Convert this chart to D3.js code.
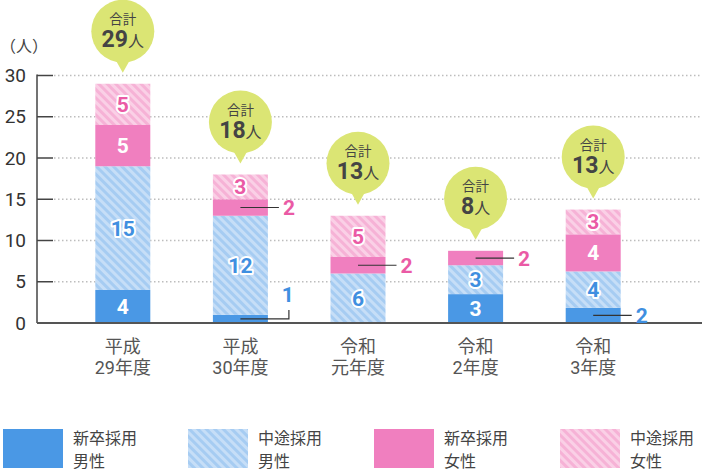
<!DOCTYPE html>
<html><head><meta charset="utf-8">
<script src="https://cdn.jsdelivr.net/npm/d3@7"></script>
<style>
html,body{margin:0;padding:0;background:#fff;}
svg{display:block;font-family:Roboto,"Noto Sans CJK JP",sans-serif;}
</style></head>
<body><svg id="c" width="702" height="470"></svg>
<script>
// ---- data ----
const categoriesLine1 = ["平成","平成","令和","令和","令和"];
const categoriesLine2 = ["29年度","30年度","元年度","2年度","3年度"];
const seriesNames = ["新卒採用男性","中途採用男性","新卒採用女性","中途採用女性"];
const legendLine1 = ["新卒採用","中途採用","新卒採用","中途採用"];
const legendLine2 = ["男性","男性","女性","女性"];
// bar heights as drawn in the picture
const newGradMale   = [4, 1, 0, 3.5, 1.85];
const midCareerMale = [15, 12, 6, 3.5, 4.4];
const newGradFemale = [5, 2, 2, 1.75, 4.5];
const midCareerFemale = [5, 3, 5, 0, 3.0];
// printed numbers
const labelNewGradMale   = ["4","1","","3","2"];
const labelMidCareerMale = ["15","12","6","3","4"];
const labelNewGradFemale = ["5","2","2","2","4"];
const labelMidCareerFemale = ["5","3","5","","3"];
const totals = ["29","18","13","8","13"];
const yTicks = [0,5,10,15,20,25,30];
const yUnit = "（人）";
// labels drawn outside the bar: [barIndex, seriesIndex, elbow]
const outsideLabels = [[1,2,false],[1,0,true],[2,2,false],[3,2,false],[4,0,false]];

const series = [newGradMale, midCareerMale, newGradFemale, midCareerFemale];
const labels = [labelNewGradMale, labelMidCareerMale, labelNewGradFemale, labelMidCareerFemale];

const svg = d3.select("#c");
const defs = svg.append("defs");
function stripes(id, base, stripe){
  const p = defs.append("pattern").attr("id",id).attr("patternUnits","userSpaceOnUse")
    .attr("width",6).attr("height",6).attr("patternTransform","rotate(-45)");
  p.append("rect").attr("width",6).attr("height",6).attr("fill",base);
  p.append("rect").attr("width",3).attr("height",6).attr("fill",stripe);
}
stripes("hb","#a6ccf2","#c6def7");
stripes("hp","#f6b2d6","#fad0e6");
const fills = ["#4a98e5","url(#hb)","#f07fbf","url(#hp)"];
const solid = [true,false,true,false];
const textColor = ["#3f8fe0","#3f8fe0","#ea5aa5","#ea5aa5"];
const legendFills = fills;

const y = d3.scaleLinear().domain([0,30]).range([323,75.5]);
const x = d3.scalePoint().domain(d3.range(5)).range([64,652]).padding(0.5);
const bw = 55;

// grid
svg.append("g").selectAll("line").data(yTicks.filter(d=>d>0)).join("line")
  .attr("x1",54).attr("x2",700).attr("y1",d=>y(d)).attr("y2",d=>y(d))
  .attr("stroke","#bdbdbd").attr("stroke-width",1.3).attr("stroke-dasharray","1.5,2.5");

// y axis
const yAxis = d3.axisLeft(y).tickValues(yTicks).tickSize(0).tickPadding(11);
const ga = svg.append("g").attr("transform","translate(37,0)").call(yAxis);
ga.select(".domain").remove();
ga.selectAll("text").attr("font-size",19).attr("fill","#333").attr("font-family","Roboto,sans-serif");
svg.append("g").selectAll("line").data(yTicks.filter(d=>d>0)).join("line")
  .attr("x1",37).attr("x2",53).attr("y1",d=>y(d)).attr("y2",d=>y(d))
  .attr("stroke","#444").attr("stroke-width",1.5);
svg.append("line").attr("x1",37).attr("x2",37).attr("y1",y(30)-1).attr("y2",y(0))
  .attr("stroke","#444").attr("stroke-width",1.5);
svg.append("text").text(yUnit).attr("x",0).attr("y",52).attr("font-size",16).attr("fill","#444");

// stacks
const stackData = d3.range(5).map(i=>{let acc=0; return series.map((s,k)=>{const y0=acc; acc+=s[i]; return {i,k,y0,y1:acc,v:s[i],lab:labels[k][i]};});});
const gb = svg.append("g");
stackData.flat().filter(d=>d.v>0).forEach(d=>{
  gb.append("rect").attr("x",x(d.i)-bw/2).attr("width",bw)
    .attr("y",y(d.y1)).attr("height",y(d.y0)-y(d.y1)).attr("fill",fills[d.k]);
});
// baseline
svg.append("line").attr("x1",37).attr("x2",702).attr("y1",y(0)).attr("y2",y(0))
  .attr("stroke","#555").attr("stroke-width",2);

const isOutside = (i,k)=>outsideLabels.some(o=>o[0]===i&&o[1]===k);
// inside labels
stackData.flat().filter(d=>d.lab && !isOutside(d.i,d.k)).forEach(d=>{
  const t = gb.append("text").text(d.lab).attr("x",x(d.i)).attr("y",(y(d.y0)+y(d.y1))/2+7.5)
    .attr("text-anchor","middle").attr("font-size",21).attr("font-weight",700);
  if (solid[d.k]) t.attr("fill","#fff");
  else t.attr("fill",textColor[d.k]).attr("stroke","#fff").attr("stroke-width",4)
        .attr("stroke-linejoin","round").attr("paint-order","stroke");
});
// outside labels
outsideLabels.forEach(([i,k,elbow])=>{
  const d = stackData[i][k];
  const cy = (y(d.y0)+y(d.y1))/2;
  const right = x(i)+bw/2;
  if (elbow){
    svg.append("path").attr("d",`M${x(i)},${cy}H${right+21}V${cy-9}`)
      .attr("fill","none").attr("stroke","#333").attr("stroke-width",1.2);
    svg.append("text").text(d.lab).attr("x",right+20).attr("y",cy-17)
      .attr("text-anchor","middle").attr("font-size",21).attr("font-weight",700).attr("fill",textColor[k]);
  } else {
    svg.append("line").attr("x1",x(i)).attr("x2",right+11).attr("y1",cy).attr("y2",cy)
      .attr("stroke","#333").attr("stroke-width",1.2);
    svg.append("text").text(d.lab).attr("x",right+15).attr("y",cy+7.5)
      .attr("font-size",21).attr("font-weight",700).attr("fill",textColor[k]);
  }
});

// bubbles
d3.range(5).forEach(i=>{
  const top = y(stackData[i][3].y1);
  const cx = x(i), tip = top-11, cy = tip-10-31.5;
  const g = svg.append("g");
  g.append("circle").attr("cx",cx).attr("cy",cy).attr("r",31.5).attr("fill","#dbe574");
  g.append("path").attr("d",`M${cx-7},${cy+29}L${cx},${tip}L${cx+7},${cy+29}Z`).attr("fill","#dbe574");
  g.append("text").text("合計").attr("x",cx).attr("y",cy-7).attr("text-anchor","middle")
    .attr("font-size",13.5).attr("fill","#444");
  const t = g.append("text").attr("x",cx).attr("y",cy+16).attr("text-anchor","middle").attr("fill","#444");
  t.append("tspan").text(totals[i]).attr("font-size",23).attr("font-weight",700);
  t.append("tspan").text("人").attr("font-size",16);
});

// x labels
const gx = svg.append("g");
d3.range(5).forEach(i=>{
  gx.append("text").text(categoriesLine1[i]).attr("x",x(i)).attr("y",353).attr("text-anchor","middle")
    .attr("font-size",18).attr("fill","#555");
  gx.append("text").text(categoriesLine2[i]).attr("x",x(i)).attr("y",374).attr("text-anchor","middle")
    .attr("font-size",18).attr("fill","#555");
});

// legend
const legX = [3,188,374,560];
legX.forEach((lx,k)=>{
  svg.append("rect").attr("x",lx).attr("y",429).attr("width",60).attr("height",39).attr("fill",legendFills[k]);
  svg.append("text").text(legendLine1[k]).attr("x",lx+70).attr("y",444).attr("font-size",16).attr("fill","#444");
  svg.append("text").text(legendLine2[k]).attr("x",lx+70).attr("y",467).attr("font-size",16).attr("fill","#444");
});
</script></body></html>
